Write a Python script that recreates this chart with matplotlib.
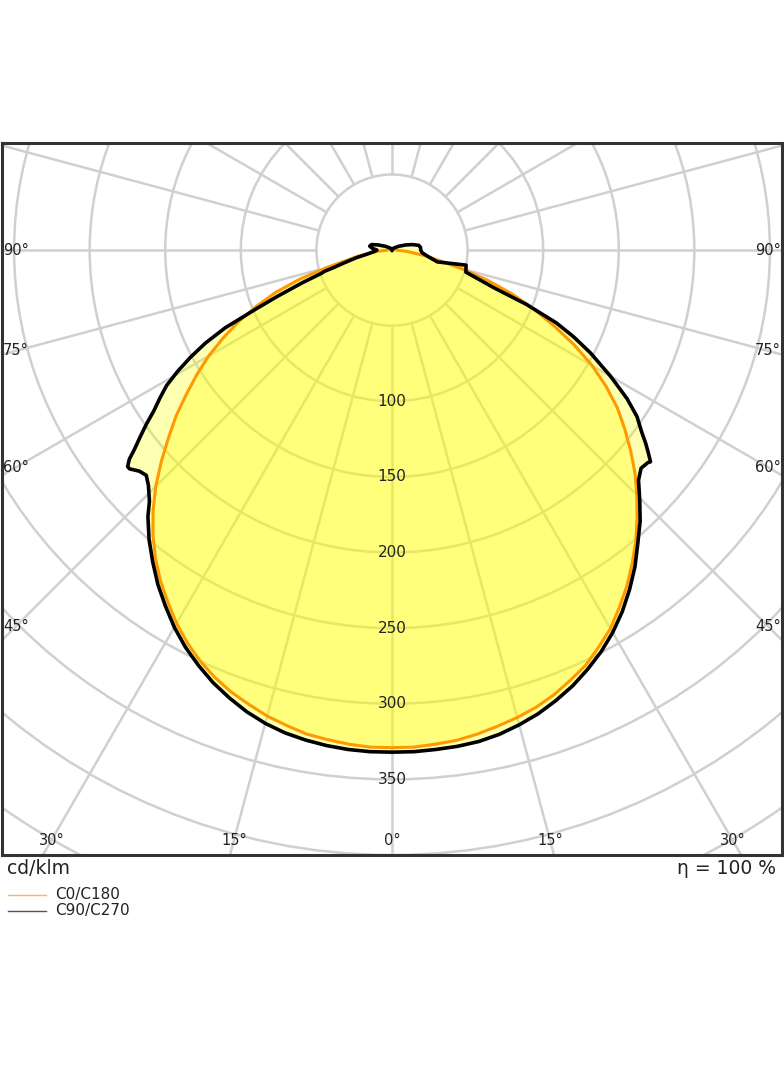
import numpy as np
import matplotlib.pyplot as plt
from matplotlib.patches import Circle
from matplotlib.lines import Line2D

# C0 (right) / C180 (left), cd/klm
ang_c0 = [0, 2.5, 5, 7.5, 10, 12.5, 15, 17.5, 20, 22.5, 25, 27.5, 30, 32.5, 35, 37.5, 40, 42.5,
          45, 47.5, 50, 52.5, 55, 57.5, 60, 62.5, 65, 67.5, 70, 72.5, 75, 80, 85, 90]
i_c0 = [329, 329, 328, 327, 325, 322.5, 320, 317, 313, 308, 303, 296, 289, 280, 271, 261, 251, 240,
        229, 218, 206, 194, 182, 168, 153, 136, 118, 101, 84, 66, 48, 24, 10, 3]
ang_c180 = [0, 2.5, 5, 7.5, 10, 12.5, 15, 17.5, 20, 22.5, 25, 27.5, 30, 32.5, 35, 37.5, 40, 42.5,
            45, 47.5, 50, 52.5, 55, 57.5, 60, 62.5, 65, 67.5, 70, 72.5, 75, 80, 85, 90]
i_c180 = [329, 329, 328, 326.5, 325, 322, 319, 315, 311, 306, 300, 293, 285, 276, 267, 257, 246, 234,
          221, 207, 193, 180, 166, 153, 140, 126, 112, 97, 82, 64, 45, 22, 10, 3]

# C90 (right) / C270 (left)
ang_c90 = [0, 2.5, 5, 7.5, 10, 12.5, 15, 17.5, 20, 22.5, 25, 27.5, 30, 32.5, 35, 37.5, 40, 42.5,
           44.7, 47, 48.8, 50.3, 50.7, 51.7, 52.7, 54, 55.8, 57.7, 60, 62.6, 64.5, 66.1, 68, 69.7,
           71.5, 73.4, 78.5, 75.4, 80, 85, 90, 95, 100, 105, 110, 120, 135, 150, 180]
i_c90 = [332, 332, 331.5, 331, 330, 328, 325, 321.5, 317, 312, 306, 299.5, 292, 283.5, 274, 264, 253, 243,
         233, 223, 219, 220, 221, 216, 211, 204, 196, 184, 167, 148, 133, 119, 96, 72,
         60, 51, 50, 31, 24, 20, 19, 19, 18, 14, 10, 5, 2, 1, 0]
ang_c270 = [0, 2.5, 5, 7.5, 10, 12.5, 15, 17.5, 20, 22.5, 25, 27.5, 30, 32.5, 35, 37.5, 40, 42.5,
            44, 46, 47.5, 48.8, 50.2, 50.7, 51.5, 52.2, 53.5, 54.7, 56, 57.5, 59, 60.5, 62, 63.5,
            65, 66.6, 68, 70, 71.8, 72.5, 73.2, 75, 78, 80, 85, 90, 95, 100, 105, 110, 120,
            135, 150, 180]
i_c270 = [332, 332, 331.5, 330.5, 329, 327, 324, 320, 315, 309.5, 303, 296, 288, 279, 270, 260, 250, 239,
          231, 224, 220.5, 222, 226, 226, 222, 216, 207, 199, 190, 182, 174, 163, 151, 138,
          122, 98, 82, 63, 49, 47, 41, 33, 24, 18, 12, 10, 13, 15, 14, 10, 5,
          2, 1, 0]

rings = [50, 100, 150, 200, 250, 300, 350, 400, 450, 500]
ring_labels = [100, 150, 200, 250, 300, 350]
angle_labels = [0, 15, 30, 45, 60, 75, 90]


def curve(ang_l, i_l, ang_r, i_r):
    al = np.radians(ang_l)[::-1]
    il = np.array(i_l, dtype=float)[::-1]
    ar = np.radians(ang_r)
    ir = np.array(i_r, dtype=float)
    x = np.concatenate((-il * np.sin(al), ir * np.sin(ar)))
    y = np.concatenate((-il * np.cos(al), -ir * np.cos(ar)))
    return x, y


W, H = 784, 1066
fig = plt.figure(figsize=(7.84, 10.66), dpi=100)
ax = fig.add_axes([2 / W, 1 - 855 / H, 780 / W, 712 / H])
ax.set_xlim(-258, 258)
ax.set_ylim(-400, 70.8)
ax.set_xticks([])
ax.set_yticks([])
for sp in ax.spines.values():
    sp.set_color('#333333')
    sp.set_linewidth(2.2)
    sp.set_zorder(10)

grid = '#d0d0d0'
for r in rings:
    ax.add_patch(Circle((0, 0), r, fill=False, ec=grid, lw=1.8, zorder=1))
for phi in range(0, 360, 15):
    t = np.radians(phi)
    ax.plot([50 * np.sin(t), 900 * np.sin(t)], [-50 * np.cos(t), -900 * np.cos(t)],
            color=grid, lw=1.8, zorder=1)

xo, yo = curve(ang_c180, i_c180, ang_c0, i_c0)
xb, yb = curve(ang_c270, i_c270, ang_c90, i_c90)
ax.fill(xo, yo, color='yellow', alpha=0.3, lw=0, zorder=2)
ax.fill(xb, yb, color='yellow', alpha=0.3, lw=0, zorder=2)
ax.plot(xo, yo, color='#ff9900', lw=2.2, zorder=3, solid_joinstyle='round')
ax.plot(xb, yb, color='black', lw=2.6, zorder=4, solid_joinstyle='round')

for r in ring_labels:
    ax.text(0, -r, str(r), ha='center', va='center', fontsize=11, color='#222222', zorder=6)

xs = 258 - 9.3
ys = -400 + 9.9
for a in angle_labels:
    t = np.radians(a)
    xb_ = -ys * np.tan(t)
    if xb_ <= xs:
        pos = [(xb_, ys), (-xb_, ys)] if a else [(0, ys)]
    else:
        yy = -xs / np.tan(t) if a < 90 else 0
        pos = [(xs, yy), (-xs, yy)]
    for px, py in pos:
        ax.text(px, py, f'{a}°', ha='center', va='center', fontsize=10.5,
                color='#222222', zorder=6, clip_on=False)

fig.text(7 / W, 1 - 869 / H, 'cd/klm', ha='left', va='center', fontsize=13.5, color='#222222')
fig.text(776 / W, 1 - 869 / H, 'η = 100 %', ha='right', va='center', fontsize=13.5,
         color='#222222')
fig.add_artist(Line2D([8 / W, 46 / W], [1 - 895 / H] * 2, transform=fig.transFigure,
                      color='#ffb060', lw=1))
fig.add_artist(Line2D([8 / W, 46 / W], [1 - 911 / H] * 2, transform=fig.transFigure,
                      color='#555555', lw=1))
fig.text(55 / W, 1 - 895 / H, 'C0/C180', ha='left', va='center', fontsize=11, color='#222222')
fig.text(55 / W, 1 - 911 / H, 'C90/C270', ha='left', va='center', fontsize=11, color='#222222')

fig.savefig('out.png', dpi=100)
